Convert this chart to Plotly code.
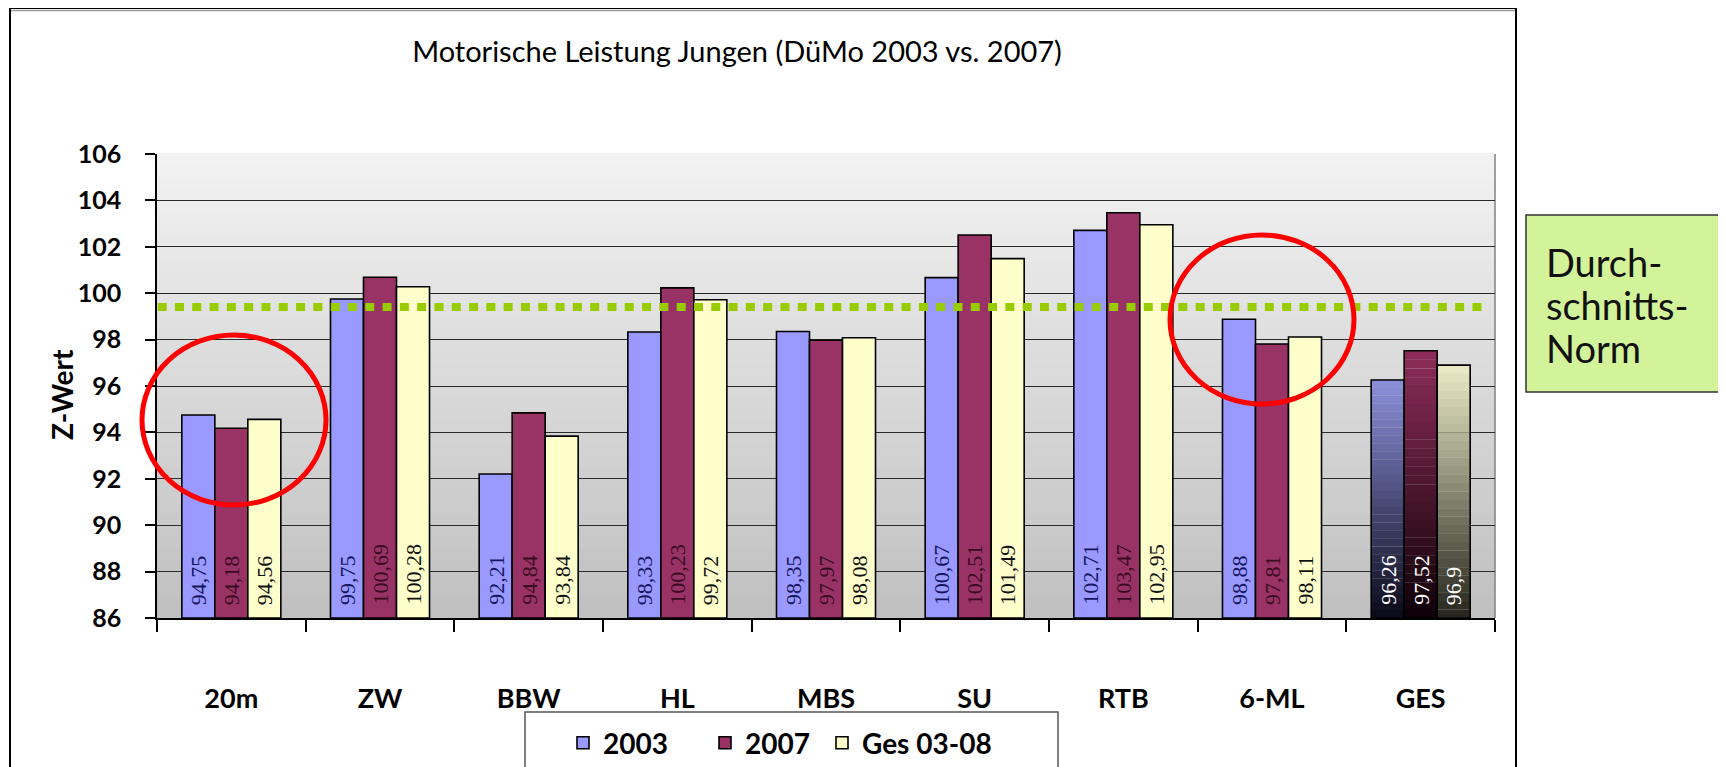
import plotly.graph_objects as go

categories = ["20m", "ZW", "BBW", "HL", "MBS", "SU", "RTB", "6-ML", "GES"]
series_names = ["2003", "2007", "Ges 03-08"]
v2003 = [94.75, 99.75, 92.21, 98.33, 98.35, 100.67, 102.71, 98.88, 96.26]
v2007 = [94.18, 100.69, 94.84, 100.23, 97.97, 102.51, 103.47, 97.81, 97.52]
vges = [94.56, 100.28, 93.84, 99.72, 98.08, 101.49, 102.95, 98.11, 96.90]
norm_value = 99.4
y_ticks = [86, 88, 90, 92, 94, 96, 98, 100, 102, 104, 106]
box_lines = ["Durch-", "schnitts-", "Norm"]

BASE = 86
OFF = 8                     # page body margin
W, H = 1718, 759
PL, PR, PT, PB = 157, 1495, 154, 618   # plot area in page pixels
L, T = PL - OFF, PT - OFF
R, B = W - (PR - OFF), H - (PB - OFF)
pw, ph = PR - PL, PB - PT
BARGAP = 0.334


def px_x(px):
    return (px - PL) / pw


def px_y(py):
    return (PB - py) / ph


def fmt(v):
    s = ("%.2f" % v).rstrip("0").rstrip(".")
    return s.replace(".", ",")


def lerp(c1, c2, t):
    return "rgb(%d,%d,%d)" % tuple(round(a + (b - a) * t) for a, b in zip(c1, c2))


series = [v2003, v2007, vges]
colors = ["#9999ff", "#993366", "#ffffcc"]
text_colors = ["#16165e", "#3a0c22", "#111111"]
grad_bottom = [(12, 12, 28), (16, 2, 10), (40, 40, 32)]
grad_top = [(138, 142, 214), (140, 44, 88), (232, 232, 196)]
legend_ids = ["legend", "legend2", "legend3"]
legend_text_x = [603, 745, 862]

fig = go.Figure()

# gradient fills for the GES bars (drawn underneath the outlined bars)
N = 30
ges_i = categories.index("GES")
for s, vals in enumerate(series):
    v = vals[ges_i]
    seg = (v - BASE) / N
    for k in range(N):
        fig.add_trace(go.Bar(
            x=["GES"], y=[seg * 1.02], base=[BASE + k * seg],
            offsetgroup=str(s), marker=dict(color=lerp(grad_bottom[s], grad_top[s], k / (N - 1)), line=dict(width=0)),
            showlegend=False, hoverinfo="skip",
        ))

for s, vals in enumerate(series):
    mcols = [colors[s]] * len(categories)
    mcols[ges_i] = "rgba(0,0,0,0)"
    fig.add_trace(go.Bar(
        name=series_names[s], x=categories, y=[v - BASE for v in vals], base=BASE,
        offsetgroup=str(s), legend=legend_ids[s],
        marker=dict(color=mcols, line=dict(color="black", width=1.6)),
        customdata=[fmt(v) for v in vals],
        hovertemplate="%{x}: %{customdata}<extra>" + series_names[s] + "</extra>",
    ))

shapes = []
# gradient plot background
NS = 40
for k in range(NS):
    t = k / (NS - 1)
    shapes.append(dict(type="rect", xref="x domain", yref="y domain", x0=0, x1=1,
                       y0=k / NS, y1=(k + 1) / NS + 0.002, layer="below",
                       fillcolor=lerp((192, 192, 192), (242, 242, 242), t), line=dict(width=0)))
# plot border right (gray)
shapes.append(dict(type="line", xref="x domain", yref="y domain", x0=1, x1=1, y0=0, y1=1,
                   line=dict(color="#808080", width=1.5), layer="below"))
# average norm line
shapes.append(dict(type="line", xref="x domain", yref="y", x0=0.0005, x1=0.992, y0=norm_value, y1=norm_value,
                   line=dict(color="#99cc00", width=8, dash="9px,8.3px"), layer="above"))
# red circles
shapes.append(dict(type="circle", xref="paper", yref="paper",
                   x0=px_x(142), x1=px_x(326), y0=px_y(505), y1=px_y(335),
                   line=dict(color="#ff0000", width=5), layer="above"))
shapes.append(dict(type="circle", xref="paper", yref="paper",
                   x0=px_x(1170), x1=px_x(1354), y0=px_y(404), y1=px_y(235),
                   line=dict(color="#ff0000", width=5), layer="above"))
# outer chart frame
shapes.append(dict(type="rect", xref="paper", yref="paper",
                   x0=px_x(10), x1=px_x(1516), y0=px_y(800), y1=px_y(8),
                   line=dict(color="black", width=2), layer="below"))
shapes.append(dict(type="line", xref="paper", yref="paper",
                   x0=px_x(11), x1=px_x(1515), y0=px_y(10.5), y1=px_y(10.5),
                   line=dict(color="#9a9a9a", width=1.5), layer="below"))
# legend frame
shapes.append(dict(type="rect", xref="paper", yref="paper",
                   x0=px_x(525), x1=px_x(1058), y0=px_y(800), y1=px_y(712),
                   fillcolor="white", line=dict(color="#555555", width=1.5), layer="below"))
# green box on the right
shapes.append(dict(type="rect", xref="paper", yref="paper",
                   x0=px_x(1526), x1=px_x(1723), y0=px_y(392), y1=px_y(215),
                   fillcolor="#d2f39a", line=dict(color="#333333", width=1.5), layer="above"))

annotations = [
    dict(text="Z-Wert", xref="paper", yref="paper", x=px_x(62), y=px_y(395), textangle=-90,
         xanchor="center", yanchor="middle",
         showarrow=False, font=dict(family="Lato", size=28, color="black", weight="bold")),
]
for i, line in enumerate(box_lines):
    annotations.append(dict(text=line, xref="paper", yref="paper", x=px_x(1544), y=px_y(262 + 43 * i),
                            xanchor="left", yanchor="middle", align="left", showarrow=False,
                            font=dict(family="Lato", size=38, color="#111111")))

# value labels at the base of each bar
bar_w = pw / len(categories) * (1 - BARGAP) / len(series)
for s, vals in enumerate(series):
    for i, (c, v) in enumerate(zip(categories, vals)):
        annotations.append(dict(
            text=fmt(v), x=c, y=BASE, xref="x", yref="y", xanchor="center", yanchor="bottom",
            xshift=(s - 1) * bar_w, yshift=11, textangle=-90, showarrow=False,
            font=dict(family="Liberation Serif", size=22,
                      color="white" if i == ges_i else text_colors[s])))

legend_style = dict(orientation="h", xanchor="left", yanchor="top", bgcolor="rgba(0,0,0,0)",
                    borderwidth=0, font=dict(family="Lato", size=28, color="black", weight="bold"))
legends = {}
for s, lid in enumerate(legend_ids):
    legends[lid] = dict(legend_style, x=px_x(legend_text_x[s] - 40), y=px_y(718))

fig.update_layout(
    width=W, height=H,
    margin=dict(l=L, r=R, t=T, b=B, autoexpand=False),
    paper_bgcolor="white", plot_bgcolor="rgba(0,0,0,0)",
    barmode="group", bargap=BARGAP, bargroupgap=0,
    title=dict(text="Motorische Leistung Jungen (DüMo 2003 vs. 2007)", x=(737 - OFF) / W, y=1 - (52 - OFF) / H,
               xanchor="center", yanchor="middle", xref="container", yref="container",
               font=dict(family="Lato", size=29, color="black")),
    shapes=shapes, annotations=annotations,
    showlegend=True,
    xaxis=dict(type="category", categoryorder="array", categoryarray=categories,
               showgrid=False, showline=True, linecolor="black", linewidth=1.5,
               ticks="outside", ticklen=12, tickcolor="black", tickwidth=1.5, tickson="boundaries",
               ticklabelstandoff=56,
               tickfont=dict(family="Lato", size=27, color="black", weight="bold"), fixedrange=True),
    yaxis=dict(range=[86, 106], tickvals=y_ticks, showgrid=True, gridcolor="#2a2a2a", gridwidth=1,
               showline=True, linecolor="black", linewidth=1.5, zeroline=False,
               ticks="outside", ticklen=10, tickcolor="black", tickwidth=1.5, ticklabelstandoff=19,
               tickfont=dict(family="Lato", size=25, color="black", weight="bold"), fixedrange=True),
    **legends,
)

fig.write_html("out.html")
